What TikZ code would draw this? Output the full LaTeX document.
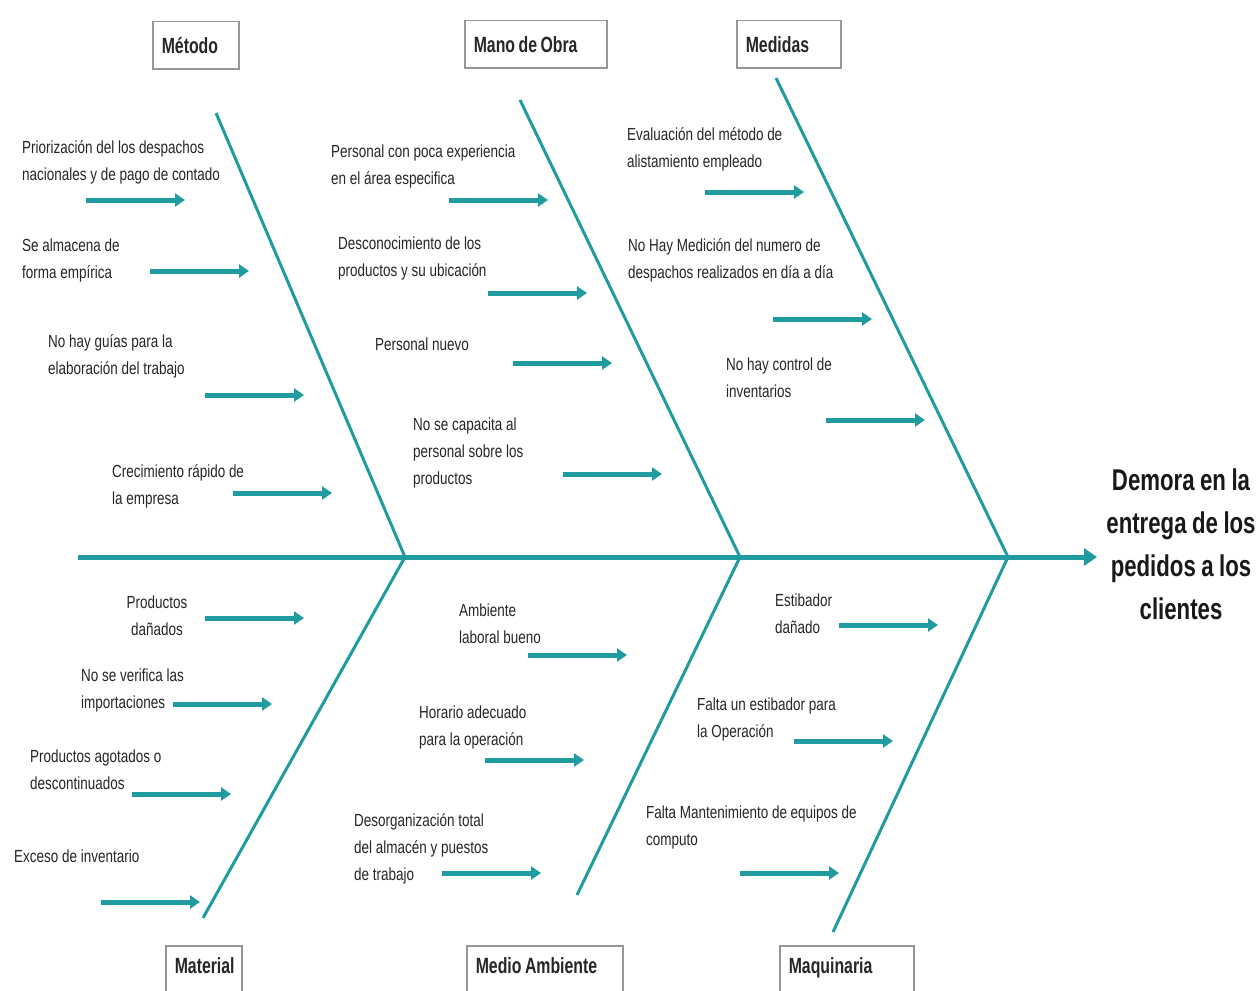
\documentclass[tikz,border=0pt]{standalone}
\usepackage{fontspec}
\setmainfont{Liberation Sans}
\newfontfamily\smallfam[FakeStretch=0.77]{Liberation Sans}
\newfontfamily\catfam[FakeStretch=0.72]{Liberation Sans}
\newfontfamily\headfam[FakeStretch=0.74]{Liberation Sans}
\newcommand\catfontsel{\catfam\bfseries\fontsize{22}{26}\selectfont\spaceskip=3.5pt plus 1pt minus 1pt\relax}
\newcommand\headfontsel{\headfam\bfseries\fontsize{30}{43}\selectfont\spaceskip=5.5pt plus 1pt minus 1pt\relax}
\usetikzlibrary{arrows.meta}
\definecolor{bone}{RGB}{32,156,160}
\definecolor{boxline}{RGB}{150,150,150}
\tikzset{
  lbl/.style={anchor=north west, inner sep=0pt, align=left,
    font=\smallfam\fontsize{17.5}{27}\selectfont, text=black!85,
    execute at begin node=\rule{0pt}{14pt}},
  catbox/.style={anchor=north west, draw=boxline, line width=1.5pt, fill=white,
    minimum height=47pt, inner xsep=9pt, inner ysep=0pt, align=left,
    text=black!85, execute at begin node=\catfontsel},
  spine/.style={draw=bone, line width=5pt, -{Triangle[length=13pt,width=17pt]}},
  bonel/.style={draw=bone, line width=3pt},
  cause/.style={draw=bone, line width=5pt, -{Triangle[length=10pt,width=13pt]}},
}
\begin{document}
\begin{tikzpicture}[x=1pt,y=-1pt]
\clip (0,0) rectangle (1260,990);
\fill[white] (0,0) rectangle (1260,990);

% spine
\coordinate (tail) at (78,557);
\coordinate (head) at (1097,557);
\draw[spine] (tail) -- (head);

% bone junctions and ends
\coordinate (j1) at (405,557);
\coordinate (j2) at (740,557);
\coordinate (j3) at (1008,557);
\coordinate (u1) at (216,113);
\coordinate (u2) at (520,100);
\coordinate (u3) at (776,78);
\coordinate (l1) at (203,918);
\coordinate (l2) at (577,895);
\coordinate (l3) at (833,932);
\draw[bonel] (u1) -- (j1) -- (l1);
\draw[bonel] (u2) -- (j2) -- (l2);
\draw[bonel] (u3) -- (j3) -- (l3);

% cause arrows
\foreach \n/\x/\y in {
  am1/86/200, am2/150/271, am3/205/395, am4/233/493,
  ao1/449/200, ao2/488/293, ao3/513/363, ao4/563/474,
  ad1/705/192, ad2/773/319, ad3/826/420,
  at1/205/618, at2/173/704, at3/132/794, at4/101/902,
  aa1/528/655, aa2/485/760, aa3/442/873,
  aq1/839/625, aq2/794/741, aq3/740/873} {
  \coordinate (\n s) at (\x,\y);
  \coordinate (\n e) at (\x+99,\y);
  \draw[cause] (\n s) -- (\n e);
}

% category boxes
\node[catbox, text width=68pt] (cMet) at (152,21) {Método};
\node[catbox, text width=124pt] (cMan) at (464,20) {Mano de Obra};
\node[catbox, text width=86pt] (cMed) at (736,20) {Medidas};
\node[catbox, text width=58pt, minimum height=60pt, text depth=20pt] (cMat) at (165,945) {Material};
\node[catbox, text width=138pt, minimum height=60pt, text depth=20pt] (cAmb) at (466,945) {Medio Ambiente};
\node[catbox, text width=116pt, minimum height=60pt, text depth=20pt] (cMaq) at (779,945) {Maquinaria};

% effect
\node[align=center, inner sep=0pt, text=black!90, execute at begin node=\headfontsel] (effect) at (1181,544)
  {Demora en la\\entrega de los\\pedidos a los\\clientes};

% Método causes
\node[lbl] (m1) at (22,140) {Priorización del los despachos\\nacionales y de pago de contado};
\node[lbl] (m2) at (22,239) {Se almacena de\\forma empírica};
\node[lbl] (m3) at (48,334) {No hay guías para la\\elaboración del trabajo};
\node[lbl] (m4) at (112,464) {Crecimiento rápido de\\la empresa};

% Mano de Obra causes
\node[lbl] (o1) at (331,145) {Personal con poca experiencia\\en el área especifica};
\node[lbl] (o2) at (338,237) {Desconocimiento de los\\productos y su ubicación};
\node[lbl] (o3) at (375,336) {Personal nuevo};
\node[lbl] (o4) at (413,418) {No se capacita al\\personal sobre los\\productos};

% Medidas causes
\node[lbl] (d1) at (627,127) {Evaluación del método de\\alistamiento empleado};
\node[lbl] (d2) at (628,238) {No Hay Medición del numero de\\despachos realizados en día a día};
\node[lbl] (d3) at (726,358) {No hay control de\\inventarios};

% Material causes
\node[lbl, anchor=north, align=center] (t1) at (157,596) {Productos\\dañados};
\node[lbl] (t2) at (81,669) {No se verifica las\\importaciones};
\node[lbl] (t3) at (30,750) {Productos agotados o\\descontinuados};
\node[lbl] (t4) at (14,848) {Exceso de inventario};

% Medio Ambiente causes
\node[lbl] (a1) at (459,604) {Ambiente\\laboral bueno};
\node[lbl] (a2) at (419,706) {Horario adecuado\\para la operación};
\node[lbl] (a3) at (354,813) {Desorganización total\\del almacén y puestos\\de trabajo};

% Maquinaria causes
\node[lbl] (q1) at (775,594) {Estibador\\dañado};
\node[lbl] (q2) at (697,698) {Falta un estibador para\\la Operación};
\node[lbl] (q3) at (646,806) {Falta Mantenimiento de equipos de\\computo};
\end{tikzpicture}
\end{document}
